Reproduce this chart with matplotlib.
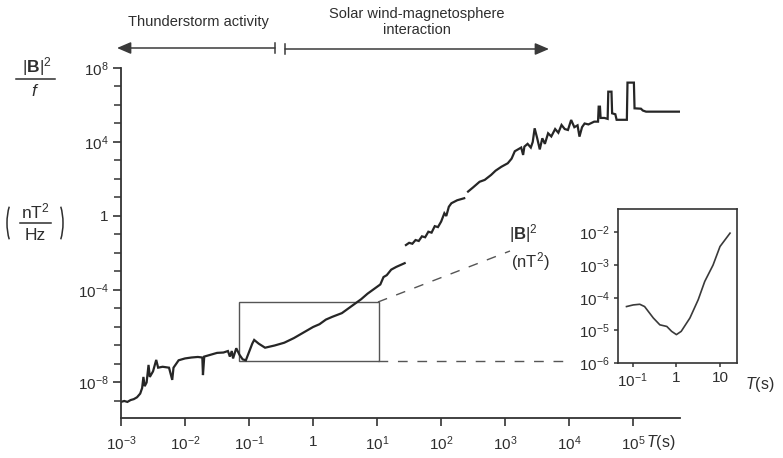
import numpy as np
import matplotlib
matplotlib.use('Agg')
import matplotlib.pyplot as plt
from matplotlib.lines import Line2D
from matplotlib.patches import Rectangle, FancyArrowPatch, Arc
from matplotlib.transforms import IdentityTransform
from matplotlib.ticker import FixedLocator, FixedFormatter, NullLocator

plt.rcParams['font.family'] = ['Liberation Sans', 'DejaVu Sans']
plt.rcParams['mathtext.fontset'] = 'custom'
plt.rcParams['mathtext.rm'] = 'Liberation Sans'
plt.rcParams['mathtext.it'] = 'Liberation Sans:italic'
plt.rcParams['mathtext.bf'] = 'Liberation Sans:bold'
plt.rcParams['mathtext.sf'] = 'Liberation Sans'

# ---------------- data (log10 values) ----------------
seg1_logT = [-3.00, -2.95, -2.90, -2.85, -2.80, -2.75, -2.70, -2.67, -2.65, -2.63, -2.60, -2.57, -2.55,
             -2.50, -2.45, -2.42, -2.35, -2.25, -2.20, -2.18, -2.10, -2.00, -1.90, -1.80, -1.73, -1.72,
             -1.70, -1.60, -1.50, -1.40, -1.33, -1.30, -1.27, -1.25, -1.20, -1.15, -1.10, -1.05, -1.00,
             -0.95, -0.92, -0.85, -0.75, -0.60, -0.45, -0.30, -0.15, 0.00, 0.10, 0.20, 0.30, 0.45,
             0.55, 0.65, 0.75, 0.85, 0.95, 1.05, 1.10, 1.15, 1.22, 1.30, 1.43]
seg1_logP = [-10.05, -10.00, -10.05, -9.95, -9.90, -9.80, -9.60, -9.30, -8.70, -9.20, -9.00, -8.05, -8.70,
             -8.40, -7.78, -8.20, -8.15, -8.20, -8.86, -8.20, -7.80, -7.70, -7.65, -7.62, -7.65, -8.60,
             -7.60, -7.50, -7.40, -7.38, -7.30, -7.60, -7.30, -7.70, -7.15, -7.50, -7.75, -7.80, -7.35,
             -6.90, -6.70, -6.90, -7.12, -7.00, -6.85, -6.60, -6.30, -6.00, -5.85, -5.60, -5.45, -5.25,
             -5.00, -4.75, -4.50, -4.20, -3.95, -3.70, -3.30, -3.20, -2.90, -2.75, -2.55]

seg2_logT = [1.45, 1.50, 1.55, 1.60, 1.65, 1.70, 1.75, 1.80, 1.85, 1.90, 1.95, 2.00, 2.05, 2.08, 2.12,
             2.16, 2.25, 2.36]
seg2_logP = [-1.57, -1.45, -1.50, -1.30, -1.35, -1.10, -1.15, -0.85, -0.90, -0.55, -0.60, -0.30, 0.15,
             0.00, 0.50, 0.69, 0.85, 0.96]

seg3_logT = [2.42, 2.50, 2.60, 2.68, 2.78, 2.85, 2.94, 3.04, 3.10, 3.15, 3.20, 3.25, 3.28, 3.30, 3.35,
             3.40, 3.43, 3.46, 3.50, 3.54, 3.58, 3.62, 3.67, 3.72, 3.78, 3.83, 3.88, 3.93, 3.98, 4.03,
             4.08, 4.13, 4.16, 4.20, 4.24, 4.30, 4.39, 4.45, 4.46, 4.48, 4.49, 4.55, 4.60, 4.61, 4.66,
             4.67, 4.72, 4.74, 4.90, 4.91, 5.01, 5.02, 5.12, 5.15, 5.20, 5.75]
seg3_logP = [1.32, 1.55, 1.85, 1.95, 2.22, 2.45, 2.66, 2.85, 3.10, 3.50, 3.60, 3.70, 3.30, 3.75, 3.90,
             3.70, 4.00, 4.74, 4.20, 3.60, 4.20, 3.90, 4.47, 4.30, 4.70, 4.50, 4.92, 4.70, 4.65, 5.19,
             4.80, 4.90, 4.29, 4.80, 5.00, 4.95, 5.10, 5.10, 5.91, 5.91, 5.30, 5.30, 5.25, 6.72, 6.72,
             5.55, 5.50, 5.20, 5.20, 7.21, 7.21, 5.82, 5.80, 5.70, 5.64, 5.64]

inset_logT = [-1.145, -0.99, -0.84, -0.73, -0.53, -0.38, -0.22, -0.11, 0.00, 0.11, 0.31, 0.50, 0.65,
              0.84, 1.00, 1.23]
inset_logP = [-4.27, -4.22, -4.20, -4.27, -4.62, -4.83, -4.88, -5.03, -5.13, -5.03, -4.62, -4.06, -3.50,
              -3.00, -2.43, -2.02]

main_xticks = [1e-3, 1e-2, 1e-1, 1, 1e1, 1e2, 1e3, 1e4, 1e5]
main_xticklabels = ['$10^{-3}$', '$10^{-2}$', '$10^{-1}$', '1', '$10^{1}$', '$10^{2}$', '$10^{3}$',
                    '$10^{4}$', '$10^{5}$']
main_yticks = [1e-9, 1e-4, 1, 1e4, 1e8]
main_yticklabels = ['$10^{-8}$', '$10^{-4}$', '1', '$10^{4}$', '$10^{8}$']
inset_xticks = [0.1, 1, 10]
inset_xticklabels = ['$10^{-1}$', '1', '10']
inset_yticks = [1e-6, 1e-5, 1e-4, 1e-3, 1e-2]
inset_yticklabels = ['$10^{-6}$', '$10^{-5}$', '$10^{-4}$', '$10^{-3}$', '$10^{-2}$']

# zoom rectangle bounds (log10)
rect_logT = [-1.16, 1.03]
rect_logP = [-7.84, -4.65]

# ---------------- figure ----------------
W, H = 783, 458
fig = plt.figure(figsize=(W / 100, H / 100), dpi=100)
fig.patch.set_facecolor('white')

def P(x, y):
    return (x / W, 1 - y / H)

INK = '#262626'
TXT = '#2e2e2e'

ax = fig.add_axes([121 / W, 1 - 418 / H, (680 - 121) / W, (418 - 68) / H])
ax.set_xscale('log')
ax.set_yscale('log')
ax.set_xlim(1e-3, 10 ** 5.73)
ax.set_ylim(10 ** -10.92, 1e8)

nan = [np.nan]
logT = np.array(seg1_logT + nan + seg2_logT + nan + seg3_logT)
logP = np.array(seg1_logP + nan + seg2_logP + nan + seg3_logP)
ax.plot(10 ** logT, 10 ** logP, color=INK, lw=1.6, solid_joinstyle='miter')

ax.add_patch(Rectangle((10 ** rect_logT[0], 10 ** rect_logP[0]),
                       10 ** rect_logT[1] - 10 ** rect_logT[0],
                       10 ** rect_logP[1] - 10 ** rect_logP[0],
                       fill=False, ec='#555555', lw=1.0))

for s in ['top', 'right']:
    ax.spines[s].set_visible(False)
for s in ['left', 'bottom']:
    ax.spines[s].set_color('#333333')
    ax.spines[s].set_linewidth(1.3)

ax.xaxis.set_major_locator(FixedLocator(main_xticks))
ax.xaxis.set_major_formatter(FixedFormatter(main_xticklabels))
ax.xaxis.set_minor_locator(NullLocator())
ax.yaxis.set_major_locator(FixedLocator(main_yticks))
ax.yaxis.set_major_formatter(FixedFormatter(main_yticklabels))
ax.yaxis.set_minor_locator(FixedLocator([10.0 ** k for k in range(-10, 8) if k not in (-9, -4, 0, 4)]))
ax.yaxis.set_minor_formatter(FixedFormatter([]))
ax.tick_params(which='major', direction='out', length=6, width=1.2, color='#333333',
               labelsize=11, labelcolor=TXT)
ax.tick_params(axis='x', which='major', pad=6)
ax.tick_params(axis='y', which='major', pad=3)
ax.tick_params(which='minor', direction='out', length=5, width=1.1, color='#333333')

ax.text(661 / W, 1 - 443 / H, '$T$(s)', transform=fig.transFigure, ha='center', va='center',
        fontsize=11.5, color=TXT)

# ---------------- inset ----------------
axi = fig.add_axes([618 / W, 1 - 363 / H, (737 - 618) / W, (363 - 209) / H])
axi.set_xscale('log')
axi.set_yscale('log')
axi.set_xlim(10 ** -1.34, 10 ** 1.39)
axi.set_ylim(1e-6, 10 ** -1.28)
axi.plot(10 ** np.array(inset_logT), 10 ** np.array(inset_logP), color='#3a3a3a', lw=1.2)
for s in axi.spines.values():
    s.set_color('#333333')
    s.set_linewidth(1.2)
axi.xaxis.set_major_locator(FixedLocator(inset_xticks))
axi.xaxis.set_major_formatter(FixedFormatter(inset_xticklabels))
axi.xaxis.set_minor_locator(NullLocator())
axi.yaxis.set_major_locator(FixedLocator(inset_yticks))
axi.yaxis.set_major_formatter(FixedFormatter(inset_yticklabels))
axi.yaxis.set_minor_locator(NullLocator())
axi.tick_params(which='major', direction='out', length=3, width=1.1, color='#333333',
                labelsize=11, labelcolor=TXT, pad=3)
axi.text(760 / W, 1 - 384 / H, '$T$(s)', transform=fig.transFigure, ha='center', va='center',
         fontsize=11.5, color=TXT)

fig.text(523 / W, 1 - 234 / H, r'$|\mathbf{B}|^2$', ha='center', va='center', fontsize=12, color=TXT)
fig.text(530 / W, 1 - 262 / H, r'(nT$^2$)', ha='center', va='center', fontsize=12, color=TXT)

# dashed connectors
fig.add_artist(Line2D([378 / W, 510 / W], [1 - 302 / H, 1 - 251 / H], transform=fig.transFigure,
                      color='#555555', lw=1.0, ls=(0, (7, 7))))
fig.add_artist(Line2D([378 / W, 566 / W], [1 - 361 / H, 1 - 361 / H], transform=fig.transFigure,
                      color='#555555', lw=1.0, ls=(0, (7, 7))))

# ---------------- y label ----------------
fig.text(37 / W, 1 - 67 / H, r'$|\mathbf{B}|^2$', ha='center', va='center', fontsize=12.5, color=TXT)
fig.add_artist(Line2D([16 / W, 55 / W], [1 - 79 / H, 1 - 79 / H], transform=fig.transFigure,
                      color=TXT, lw=1.1))
fig.text(35 / W, 1 - 91 / H, '$f$', ha='center', va='center', fontsize=12.5, color=TXT)

fig.text(35 / W, 1 - 211 / H, r'nT$^2$', ha='center', va='center', fontsize=12.5, color=TXT)
fig.add_artist(Line2D([20 / W, 51 / W], [1 - 223 / H, 1 - 223 / H], transform=fig.transFigure,
                      color=TXT, lw=1.1))
fig.text(35 / W, 1 - 236 / H, 'Hz', ha='center', va='center', fontsize=12.5, color=TXT)
# thin tall parentheses drawn as arcs (pixel coordinates)
fig.add_artist(Arc((22, H - 223), 30, 62, theta1=128, theta2=232, transform=IdentityTransform(),
                   color=TXT, lw=1.1))
fig.add_artist(Arc((48, H - 223), 30, 62, theta1=-52, theta2=52, transform=IdentityTransform(),
                   color=TXT, lw=1.1))

# ---------------- top annotations ----------------
fig.text(198 / W, 1 - 22 / H, 'Thunderstorm activity', ha='center', va='center', fontsize=10.5,
         color=TXT)
fig.text(417 / W, 1 - 22 / H, 'Solar wind-magnetosphere\ninteraction', ha='center', va='center',
         fontsize=10.5, color=TXT, linespacing=1.25)

arr_kw = dict(transform=fig.transFigure, arrowstyle='-|>,head_length=0.7,head_width=0.3',
              mutation_scale=12, lw=1.1, color='#3a3a3a', shrinkA=0, shrinkB=0)
fig.add_artist(FancyArrowPatch(P(275, 48), P(117, 48), **arr_kw))
fig.add_artist(FancyArrowPatch(P(285, 49), P(549, 49), **arr_kw))
for xb, yb in [(275, 48), (285, 49)]:
    fig.add_artist(Line2D([xb / W, xb / W], [1 - (yb - 5) / H, 1 - (yb + 5) / H],
                          transform=fig.transFigure, color='#3a3a3a', lw=1.1))

fig.savefig('out.png', dpi=100, facecolor='white')
